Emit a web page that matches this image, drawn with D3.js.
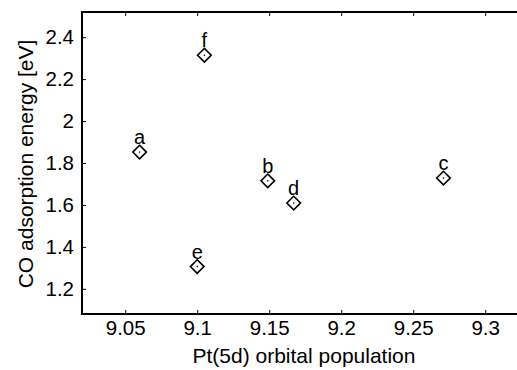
<!DOCTYPE html>
<html>
<head>
<meta charset="utf-8">
<script src="https://cdn.jsdelivr.net/npm/d3@7"></script>
<style>
  html, body { margin: 0; padding: 0; background: #fff; }
  svg { display: block; font-family: "Liberation Sans", Arial, Helvetica, sans-serif; }
</style>
</head>
<body>
<div id="chart"></div>
<script>
/* CO adsorption energy vs Pt(5d) orbital population. */

var labels = ["a", "b", "c", "d", "e", "f"];
var population = [9.060, 9.149, 9.271, 9.167, 9.100, 9.105];
var energy = [1.852, 1.715, 1.728, 1.609, 1.306, 2.314];
var xTicks = [9.05, 9.1, 9.15, 9.2, 9.25, 9.3];
var yTicks = [1.2, 1.4, 1.6, 1.8, 2, 2.2, 2.4];

var width = 517, height = 370;
var margin = { top: 12, right: -4, bottom: 56, left: 82 };
var innerW = width - margin.left - margin.right;
var innerH = height - margin.top - margin.bottom;

var svg = d3.select("#chart").append("svg")
  .attr("width", width).attr("height", height);

var g = svg.append("g").attr("transform", "translate(" + margin.left + "," + margin.top + ")");

var x = d3.scaleLinear().domain([9.02, 9.02 + innerW / 1440]).range([0, innerW]);
var y = d3.scaleLinear().domain([1.08, 2.52]).range([innerH, 0]);

var fmt = function (v) { return String(+v.toFixed(2)); };

/* bottom, top and left ticks point inward */
var xb = g.append("g").attr("transform", "translate(0," + innerH + ")")
  .call(d3.axisBottom(x).tickValues(xTicks).tickSizeInner(-4).tickSizeOuter(0).tickPadding(6).tickFormat(fmt));
var xt = g.append("g")
  .call(d3.axisTop(x).tickValues(xTicks).tickSizeInner(-4).tickSizeOuter(0).tickFormat(""));
var yl = g.append("g")
  .call(d3.axisLeft(y).tickValues(yTicks).tickSizeInner(-4).tickSizeOuter(0).tickPadding(8).tickFormat(fmt));

[xb, xt, yl].forEach(function (a) {
  a.select(".domain").remove();
  a.selectAll(".tick line").attr("stroke", "#000").attr("stroke-width", 1);
  a.selectAll("text").attr("fill", "#000").style("font-size", "20.5px");
});

/* frame */
g.append("path")
  .attr("d", "M" + innerW + ",0H0V" + innerH + "H" + innerW)
  .attr("fill", "none").attr("stroke", "#000").attr("stroke-width", 2);

var pts = labels.map(function (l, i) { return { label: l, x: population[i], y: energy[i] }; });

var pt = g.selectAll(".pt").data(pts).enter().append("g")
  .attr("transform", function (d) { return "translate(" + x(d.x) + "," + y(d.y) + ")"; });

pt.append("path")
  .attr("d", "M0,-6.8L6.8,0L0,6.8L-6.8,0Z")
  .attr("fill", "none").attr("stroke", "#000").attr("stroke-width", 1.6);
pt.append("circle").attr("r", 0.8).attr("fill", "#000");
pt.append("text")
  .attr("y", -8).attr("text-anchor", "middle")
  .style("font-size", "20px").attr("fill", "#000")
  .text(function (d) { return d.label; });

svg.append("text")
  .attr("x", 304).attr("y", 363).attr("text-anchor", "middle")
  .style("font-size", "21px").text("Pt(5d) orbital population");

svg.append("text")
  .attr("transform", "translate(33," + (margin.top + innerH / 2 + 1) + ") rotate(-90)")
  .attr("text-anchor", "middle")
  .style("font-size", "21px").text("CO adsorption energy [eV]");
</script>
</body>
</html>
